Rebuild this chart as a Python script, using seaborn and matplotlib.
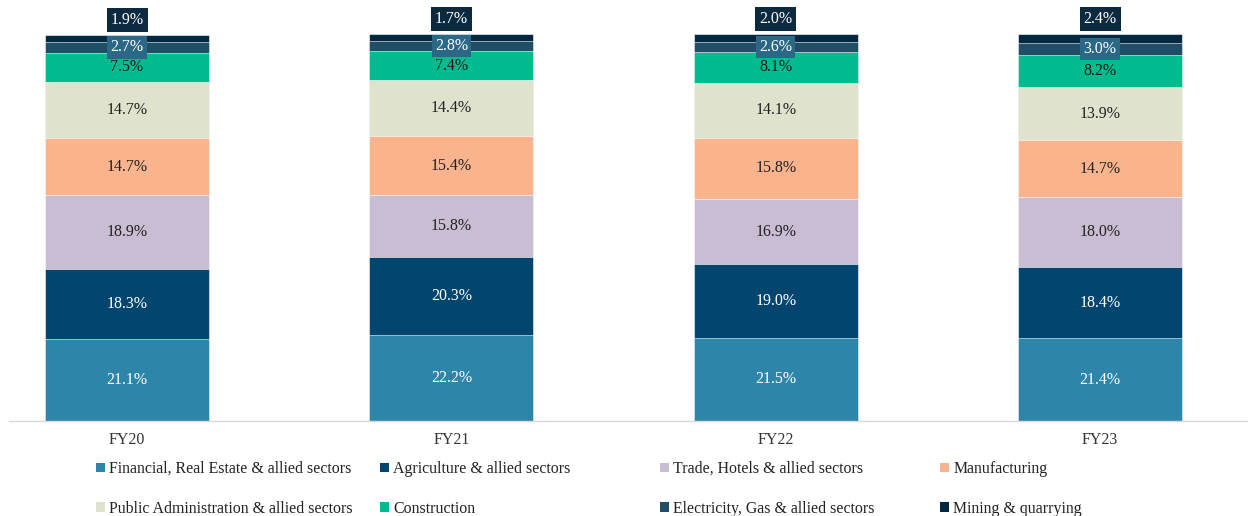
import numpy as np
import pandas as pd
import seaborn as sns
import matplotlib.pyplot as plt
from matplotlib.patches import Patch

years = ["FY20", "FY21", "FY22", "FY23"]
sectors = [
    "Financial, Real Estate & allied sectors",
    "Agriculture & allied sectors",
    "Trade, Hotels & allied sectors",
    "Manufacturing",
    "Public Administration & allied sectors",
    "Construction",
    "Electricity, Gas & allied sectors",
    "Mining & quarrying",
]
financial = [21.1, 22.2, 21.5, 21.4]
agriculture = [18.3, 20.3, 19.0, 18.4]
trade = [18.9, 15.8, 16.9, 18.0]
manufacturing = [14.7, 15.4, 15.8, 14.7]
public_admin = [14.7, 14.4, 14.1, 13.9]
construction = [7.5, 7.4, 8.1, 8.2]
electricity = [2.7, 2.8, 2.6, 3.0]
mining = [1.9, 1.7, 2.0, 2.4]

colors = ["#2E85AA", "#02466F", "#C9BDD3", "#F9B48E",
          "#DFE3CE", "#00BB8D", "#1F4E66", "#03283F"]
text_colors = ["white", "white", "#222222", "#222222",
               "#222222", "#1a1a1a", "white", "white"]

values = np.array([financial, agriculture, trade, manufacturing,
                   public_admin, construction, electricity, mining])
tops = values.cumsum(axis=0)
bottoms = tops - values

sns.set_theme(style="white")
plt.rcParams["font.family"] = ["Liberation Serif", "DejaVu Serif"]

fig = plt.figure(figsize=(12.48, 5.16), dpi=100)
ax = fig.add_axes([9 / 1248, 95 / 516, 1239 / 1248, 387 / 516])

# overlay cumulative bars, tallest first
for i in range(len(sectors) - 1, -1, -1):
    df = pd.DataFrame({"year": years, "top": tops[i]})
    sns.barplot(data=df, x="year", y="top", color=colors[i], width=0.506,
                saturation=1, edgecolor="white", linewidth=0.4, ax=ax)

for i in range(len(sectors)):
    for j in range(len(years)):
        v = values[i, j]
        z = 5
        if i == 7:
            y = tops[i, j] + 3.8
            box = dict(boxstyle="square,pad=0.25", fc="#0B2A40", ec="none")
        elif i == 6:
            y = (bottoms[i, j] + tops[i, j]) / 2
            box = dict(boxstyle="square,pad=0.2", fc="#2A6886", ec="none")
        else:
            y = (bottoms[i, j] + tops[i, j]) / 2
            box = None
            z = 6
        ax.text(j, y, f"{v:.1f}%", ha="center", va="center", fontsize=11.5,
                color=text_colors[i], bbox=box, clip_on=False, zorder=z)

ax.set_xlim(-0.364, 3.456)
ax.set_ylim(0, 100)
ax.set_xlabel("")
ax.set_ylabel("")
ax.set_yticks([])
ax.tick_params(axis="x", length=0, labelsize=11.5, labelcolor="#333333", pad=8)
for s in ["top", "right", "left"]:
    ax.spines[s].set_visible(False)
ax.spines["bottom"].set_color("#D9D9D9")
ax.spines["bottom"].set_linewidth(1.0)

# legend: 4 fixed columns, 2 rows each
col_x = [96, 380, 660, 940]
for c in range(4):
    idx = [c, c + 4]
    handles = [Patch(facecolor=colors[k], edgecolor="none") for k in idx]
    fig.legend(handles, [sectors[k] for k in idx], loc="upper left",
               bbox_to_anchor=(col_x[c] / 1248, 1 - 461 / 516), frameon=False,
               fontsize=11.4, handlelength=0.55, handleheight=0.55,
               handletextpad=0.3, labelspacing=1.5, borderaxespad=0,
               borderpad=0, labelcolor="#222222")

fig.savefig("out.png", dpi=100)
